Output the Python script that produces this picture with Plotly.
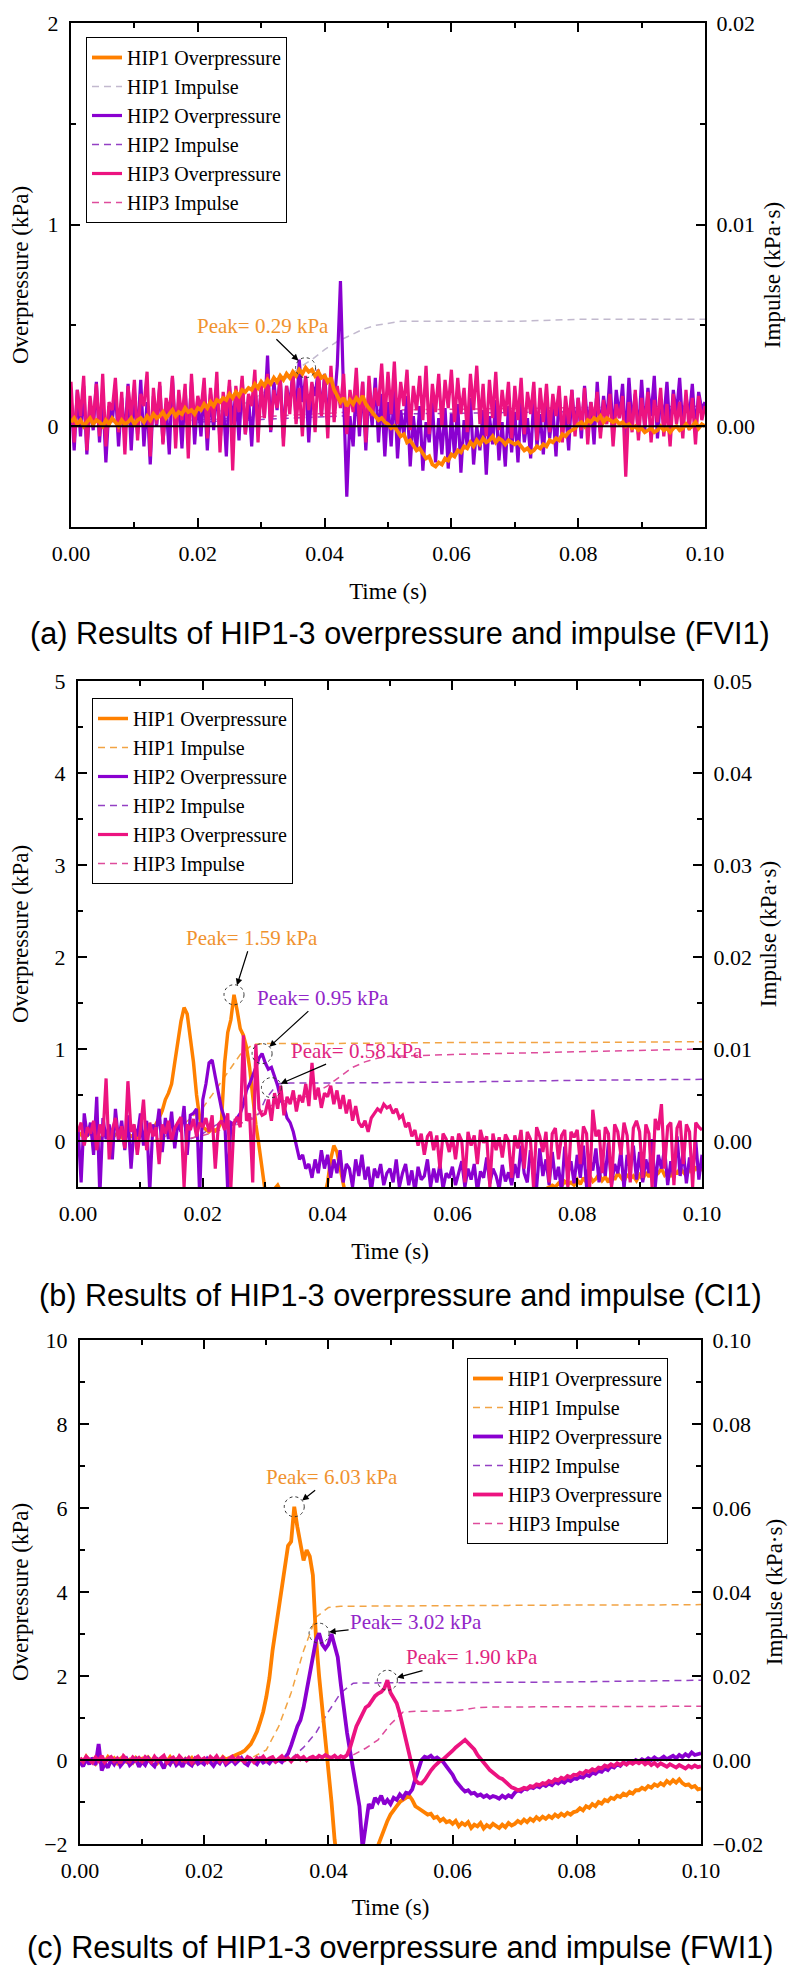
import plotly.graph_objects as go

# ---------------- sampling grid ----------------
SAMPLE_DT = 0.0005
t_grid = [round(i * SAMPLE_DT, 4) for i in range(201)]

# ---------------- panel (a) FVI1 ----------------
hip1_a = [0.02,0.04,0.01,0.03,0.00,0.02,0.04,0.01,0.03,0.02,0.00,0.03,0.01,0.04,0.02,0.00,0.03,0.01,0.02,0.04,
          0.01,0.03,0.04,0.02,0.05,0.03,0.06,0.04,0.05,0.07,0.04,0.06,0.08,0.05,0.07,0.06,0.09,0.07,0.08,0.06,
          0.09,0.08,0.11,0.09,0.12,0.10,0.13,0.12,0.14,0.13,0.16,0.14,0.17,0.15,0.18,0.17,0.19,0.18,0.21,0.19,
          0.22,0.20,0.23,0.21,0.24,0.22,0.25,0.23,0.26,0.24,0.27,0.25,0.28,0.26,0.29,0.27,0.28,0.25,0.27,0.24,
          0.25,0.22,0.24,0.18,0.15,0.12,0.14,0.10,0.13,0.11,0.14,0.12,0.15,0.11,0.09,0.07,0.05,0.03,0.04,0.02,
          0.01,-0.01,0.00,-0.03,-0.05,-0.04,-0.08,-0.07,-0.10,-0.12,-0.11,-0.14,-0.16,-0.15,-0.19,-0.20,-0.18,-0.19,-0.16,-0.17,
          -0.14,-0.15,-0.12,-0.13,-0.10,-0.11,-0.08,-0.10,-0.07,-0.09,-0.06,-0.08,-0.07,-0.05,-0.08,-0.06,-0.07,-0.09,-0.07,-0.08,
          -0.09,-0.08,-0.10,-0.12,-0.11,-0.13,-0.12,-0.10,-0.11,-0.09,-0.10,-0.07,-0.08,-0.06,-0.07,-0.04,-0.05,-0.03,-0.02,-0.01,
          0.01,0.02,0.00,0.03,0.02,0.04,0.03,0.05,0.02,0.04,0.03,0.02,0.03,0.01,0.02,0.00,0.01,-0.01,0.00,-0.02,
          -0.01,-0.03,-0.02,-0.01,-0.03,-0.02,0.00,-0.02,-0.01,-0.03,-0.01,0.00,-0.02,-0.01,0.01,-0.01,0.00,0.02,-0.01,0.01,0.00]
hip2_a = [0.15,-0.12,0.18,-0.05,0.20,-0.14,0.12,-0.02,0.22,-0.08,0.16,-0.18,0.10,0.02,0.19,-0.10,0.14,-0.06,0.21,-0.12,
          0.17,-0.04,0.23,-0.10,0.12,-0.19,0.15,0.00,0.20,-0.08,0.11,-0.14,0.24,-0.03,0.13,-0.11,0.18,-0.06,0.22,-0.09,
          0.14,-0.05,0.19,-0.12,0.16,-0.02,0.21,-0.08,0.13,-0.15,0.20,0.01,0.17,-0.07,0.23,-0.04,0.15,-0.10,0.19,0.02,
          0.18,0.05,0.35,-0.03,0.22,0.08,0.25,-0.06,0.20,0.10,0.27,0.04,0.33,0.12,0.24,-0.08,0.21,0.15,0.28,0.06,
          0.26,0.02,0.24,0.10,0.30,0.72,0.15,-0.35,0.05,-0.10,0.20,-0.05,0.22,-0.12,0.18,0.00,0.24,-0.08,0.16,-0.15,
          0.12,-0.10,0.20,-0.16,0.08,-0.05,0.15,-0.20,0.05,-0.12,0.10,-0.22,0.02,-0.08,0.12,-0.18,0.04,-0.14,0.09,-0.21,
          0.06,-0.15,0.11,-0.23,0.03,-0.10,0.14,-0.19,0.00,-0.12,0.08,-0.24,0.05,-0.09,0.13,-0.17,0.02,-0.20,0.10,-0.13,
          0.07,-0.18,0.12,-0.08,0.04,-0.16,0.15,-0.10,0.06,-0.14,0.11,-0.06,0.09,-0.15,0.16,-0.04,0.08,-0.12,0.18,-0.02,
          0.14,-0.06,0.20,0.00,0.12,-0.09,0.22,-0.03,0.15,0.02,0.25,-0.05,0.18,0.04,0.21,-0.08,0.24,0.01,0.16,-0.04,
          0.23,-0.02,0.19,0.05,0.25,-0.06,0.14,0.03,0.22,-0.04,0.18,0.06,0.24,-0.01,0.15,0.04,0.21,-0.03,0.17,0.08,0.12]
hip3_a = [0.22,-0.08,0.18,0.05,0.25,-0.12,0.15,0.02,0.21,-0.05,0.26,-0.10,0.12,0.08,0.24,-0.03,0.17,-0.14,0.20,0.04,
          0.23,-0.07,0.16,0.10,0.27,-0.15,0.19,0.01,0.22,-0.09,0.14,0.06,0.25,-0.11,0.18,0.03,0.21,-0.16,0.26,0.00,
          0.15,0.08,0.24,-0.06,0.19,0.02,0.27,-0.13,0.17,0.05,0.23,-0.22,0.20,0.07,0.25,-0.04,0.16,0.10,0.28,-0.08,
          0.21,0.04,0.26,-0.02,0.18,0.09,0.24,-0.10,0.20,0.06,0.27,0.01,0.19,-0.05,0.25,0.08,0.22,-0.03,0.28,0.05,
          0.24,-0.06,0.30,0.02,0.20,0.09,0.26,-0.04,0.18,0.07,0.29,0.00,0.22,-0.08,0.25,0.05,0.19,0.10,0.31,0.03,
          0.27,0.06,0.32,0.01,0.22,0.10,0.28,-0.02,0.20,0.08,0.25,0.03,0.30,-0.04,0.21,0.07,0.26,0.00,0.23,0.09,
          0.28,0.02,0.24,0.06,0.19,-0.03,0.26,0.08,0.30,0.01,0.21,-0.05,0.23,0.04,0.27,-0.02,0.18,0.05,0.22,-0.06,
          0.20,0.03,0.24,-0.04,0.17,0.06,0.22,-0.07,0.19,0.02,0.21,-0.03,0.16,0.05,0.20,-0.08,0.15,0.01,0.18,-0.05,
          0.14,-0.02,0.19,-0.09,0.12,0.03,0.17,-0.06,0.13,0.01,0.16,-0.10,0.11,0.04,0.15,-0.25,0.12,-0.03,0.18,-0.07,
          0.14,0.00,0.17,-0.08,0.13,0.02,0.19,-0.05,0.11,-0.10,0.16,0.01,0.12,-0.06,0.18,-0.02,0.14,-0.09,0.15,0.03,0.10]
imp1_a_t = [0.018,0.020,0.022,0.024,0.026,0.028,0.030,0.032,0.034,0.036,0.038,0.040,0.042,0.044,0.046,0.048,0.050,0.052,0.056,0.060,0.070,0.080,0.090,0.100]
imp1_a = [0.0002,0.0004,0.0006,0.0008,0.0010,0.0012,0.0016,0.0020,0.0024,0.0029,0.0033,0.0038,0.0042,0.0045,0.0048,0.0050,0.0051,0.0052,0.0052,0.0052,0.0052,0.0053,0.0053,0.0053]
imp2_a_t = [0.020,0.050,0.100]
imp2_a = [0.0002,0.0006,0.0008]
imp3_a_t = [0.020,0.050,0.100]
imp3_a = [0.0003,0.0008,0.0010]
peak_t_a = [0.037]
peak_v_a = [0.29]

# ---------------- panel (b) CI1 ----------------
hip1_b = [0.05,0.08,0.03,0.06,0.09,0.04,0.07,0.02,0.06,0.08,0.05,0.03,0.07,0.09,0.04,0.06,0.08,0.05,0.07,0.04,
          0.06,0.09,0.08,0.11,0.12,0.18,0.25,0.33,0.45,0.52,0.62,0.85,1.10,1.30,1.45,1.38,1.12,0.86,0.50,0.25,
          0.15,0.12,0.10,0.13,0.11,0.14,0.22,0.85,1.18,1.32,1.59,1.42,1.22,1.15,1.02,0.80,0.45,0.18,-0.05,-0.30,
          -0.55,-0.70,-0.60,-0.52,-0.48,-0.55,-0.62,-0.75,-0.90,-1.00,-1.05,-1.10,-1.00,-0.95,-0.90,-0.85,-0.80,-0.75,-0.70,-0.60,
          -0.45,-0.20,-0.05,-0.12,-0.30,-0.48,-0.65,-0.80,-0.90,-1.00,-1.05,-1.10,-1.10,-1.05,-1.00,-1.00,-0.95,-0.95,-0.90,-0.90,
          -0.90,-0.88,-0.88,-0.86,-0.86,-0.85,-0.85,-0.84,-0.84,-0.83,-0.83,-0.82,-0.82,-0.81,-0.81,-0.80,-0.80,-0.79,-0.79,-0.78,
          -0.78,-0.77,-0.77,-0.76,-0.76,-0.75,-0.75,-0.74,-0.74,-0.73,-0.73,-0.72,-0.72,-0.71,-0.71,-0.70,-0.70,-0.69,-0.69,-0.68,
          -0.62,-0.60,-0.61,-0.58,-0.59,-0.56,-0.57,-0.55,-0.56,-0.53,-0.52,-0.50,-0.48,-0.50,-0.46,-0.49,-0.44,-0.47,-0.45,-0.48,
          -0.42,-0.47,-0.40,-0.45,-0.38,-0.44,-0.41,-0.36,-0.43,-0.39,-0.45,-0.37,-0.42,-0.35,-0.40,-0.44,-0.36,-0.41,-0.38,-0.43,
          -0.37,-0.42,-0.34,-0.39,-0.32,-0.38,-0.35,-0.30,-0.37,-0.33,-0.39,-0.31,-0.36,-0.29,-0.34,-0.38,-0.30,-0.35,-0.28,-0.33,-0.30]
hip2_b = [0.15,-0.45,0.30,0.05,0.20,-0.15,0.48,-0.60,0.25,0.02,0.18,-0.20,0.35,0.00,0.22,-0.10,0.28,-0.30,0.15,0.05,
          0.30,-0.05,0.22,-0.55,0.18,0.08,0.35,-0.12,0.25,0.02,0.32,-0.08,0.20,0.10,0.38,-0.15,0.28,0.30,0.35,-0.60,
          0.45,0.62,0.85,0.88,0.70,0.52,0.35,0.25,-0.55,0.20,0.18,0.25,0.30,0.40,0.55,0.62,0.70,0.80,0.90,0.95,
          0.85,0.78,0.80,0.70,0.60,0.45,0.38,0.25,0.20,0.10,-0.05,-0.20,-0.15,-0.30,-0.25,-0.40,-0.20,-0.35,-0.10,-0.30,
          -0.15,-0.40,-0.20,-0.35,-0.10,-0.45,-0.25,-0.30,-0.50,-0.20,-0.38,-0.15,-0.42,-0.28,-0.55,-0.30,-0.40,-0.25,-0.48,-0.35,
          -0.30,-0.45,-0.20,-0.50,-0.35,-0.25,-0.48,-0.32,-0.55,-0.28,-0.42,-0.38,-0.20,-0.50,-0.30,-0.45,-0.25,-0.52,-0.35,-0.40,
          -0.28,-0.48,-0.35,-0.22,-0.50,-0.30,-0.42,-0.25,-0.55,-0.33,-0.40,-0.18,-0.46,-0.30,-0.38,-0.52,-0.26,-0.44,-0.34,-0.48,
          -0.25,-0.40,-0.05,-0.35,-0.45,-0.10,-0.30,-0.50,-0.08,-0.38,-0.20,-0.48,-0.12,-0.42,-0.28,-0.55,-0.06,-0.36,-0.22,-0.46,
          -0.15,-0.40,-0.05,-0.50,-0.20,-0.32,-0.08,-0.45,-0.18,-0.38,-0.02,-0.48,-0.25,-0.35,-0.10,-0.52,-0.15,-0.30,-0.05,-0.42,
          -0.12,-0.45,-0.20,-0.35,0.02,-0.50,-0.15,-0.30,-0.08,-0.48,-0.22,-0.40,0.05,-0.38,-0.10,-0.46,-0.18,-0.33,0.00,-0.42,-0.15]
hip3_b = [0.10,0.20,-0.05,0.15,0.08,0.22,-0.10,0.18,0.05,0.68,-0.20,0.12,0.25,0.02,0.16,-0.08,0.65,0.10,0.18,-0.15,
          0.12,0.45,-0.10,0.20,0.05,0.15,-0.25,0.18,0.08,0.22,0.00,0.14,0.20,0.26,-0.50,0.18,0.12,0.24,0.05,0.20,
          0.15,0.25,0.10,0.28,-0.30,0.18,0.22,0.12,0.30,-0.50,0.20,0.26,0.15,1.15,0.22,0.30,-0.45,1.05,0.35,0.28,
          0.30,0.45,0.22,0.52,0.35,0.60,0.28,0.48,0.40,0.55,0.32,0.50,0.42,0.62,0.38,0.85,0.45,0.58,0.36,0.52,
          0.48,0.60,0.40,0.55,0.35,0.50,0.30,0.45,0.22,0.38,0.20,0.15,0.22,0.10,0.25,0.30,0.35,0.32,0.40,0.36,
          0.38,0.30,0.35,0.25,0.28,0.15,0.20,0.05,0.12,-0.05,0.08,-0.15,0.05,0.10,-0.10,0.06,-0.30,0.08,0.02,-0.12,
          0.05,-0.20,0.08,0.00,-0.45,0.10,-0.05,0.06,-0.25,0.12,-0.02,0.05,-0.50,0.08,-0.10,0.04,-0.18,0.07,0.00,-0.40,
          0.06,-0.08,0.12,-0.30,0.10,0.02,-0.50,0.15,0.05,-0.12,0.10,-0.45,0.08,0.14,-0.20,0.06,0.12,-0.50,0.10,0.04,
          0.12,-0.25,0.16,0.08,-0.50,0.34,0.05,0.12,-0.35,0.15,0.08,-0.50,0.18,0.10,-0.15,0.20,0.06,-0.45,0.14,0.22,
          0.10,-0.40,0.18,0.08,-0.50,0.24,0.12,0.40,-0.30,0.16,0.20,-0.48,0.14,0.22,-0.25,0.18,0.10,-0.50,0.20,0.15,0.12]
imp1_b_t = [0.012,0.014,0.016,0.018,0.020,0.022,0.024,0.026,0.028,0.030,0.040,0.060,0.080,0.100]
imp1_b = [0.0000,0.0005,0.0013,0.0024,0.0036,0.0055,0.0075,0.0094,0.0105,0.0106,0.0106,0.0107,0.0107,0.0108]
imp2_b_t = [0.018,0.020,0.022,0.024,0.026,0.028,0.029,0.030,0.032,0.034,0.040,0.060,0.080,0.100]
imp2_b = [0.0002,0.0008,0.0017,0.0023,0.0024,0.0025,0.0030,0.0045,0.0062,0.0063,0.0063,0.0064,0.0066,0.0067]
imp3_b_t = [0.018,0.020,0.022,0.024,0.026,0.028,0.030,0.032,0.034,0.036,0.038,0.040,0.042,0.044,0.046,0.048,0.050,0.060,0.080,0.100]
imp3_b = [0.0003,0.0006,0.0010,0.0015,0.0019,0.0024,0.0035,0.0042,0.0045,0.0047,0.0052,0.0060,0.0070,0.0080,0.0086,0.0090,0.0092,0.0094,0.0097,0.0100]
peak_t_b = [0.025, 0.0295, 0.031]
peak_v_b = [1.59, 0.95, 0.58]

# ---------------- panel (c) FWI1 ----------------
hip1_c = [0.05,-0.06,0.08,-0.03,0.02,-0.08,0.06,0.00,-0.05,0.07,-0.02,0.04,-0.07,0.03,0.08,-0.04,0.01,-0.06,0.05,-0.02,
          0.03,-0.05,0.06,-0.01,0.04,-0.07,0.02,0.05,-0.03,0.07,-0.04,0.01,0.06,-0.06,0.03,-0.02,0.05,-0.05,0.04,0.00,
          0.02,-0.04,0.06,0.00,0.05,-0.03,0.07,0.01,0.04,0.08,0.12,0.15,0.18,0.22,0.30,0.38,0.52,0.68,0.90,1.15,
          1.50,1.95,2.60,3.10,3.60,4.10,4.70,5.10,5.20,6.03,5.55,5.20,4.75,5.00,4.85,4.40,2.90,2.00,1.30,0.50,
          -0.30,-1.00,-1.90,-2.60,-3.20,-3.60,-3.80,-3.90,-3.80,-3.60,-3.20,-3.00,-2.80,-2.60,-2.40,-2.20,-2.00,-1.80,-1.60,-1.45,
          -1.30,-1.18,-1.10,-1.00,-0.95,-0.88,-0.85,-0.95,-1.10,-1.15,-1.20,-1.25,-1.30,-1.28,-1.38,-1.35,-1.45,-1.40,-1.48,-1.45,
          -1.52,-1.45,-1.58,-1.50,-1.55,-1.48,-1.62,-1.54,-1.58,-1.50,-1.63,-1.55,-1.60,-1.52,-1.58,-1.62,-1.54,-1.60,-1.50,-1.56,
          -1.52,-1.45,-1.50,-1.42,-1.48,-1.40,-1.45,-1.36,-1.42,-1.35,-1.40,-1.33,-1.38,-1.30,-1.35,-1.28,-1.33,-1.26,-1.30,-1.24,
          -1.22,-1.15,-1.20,-1.10,-1.14,-1.05,-1.10,-1.00,-1.04,-0.95,-0.98,-0.90,-0.93,-0.85,-0.88,-0.80,-0.84,-0.76,-0.80,-0.72,
          -0.72,-0.66,-0.70,-0.62,-0.66,-0.58,-0.62,-0.55,-0.60,-0.50,-0.56,-0.48,-0.54,-0.46,-0.55,-0.60,-0.58,-0.65,-0.62,-0.70,-0.68]
hip2_c = [-0.05,-0.15,0.02,-0.10,0.05,-0.12,0.38,-0.25,-0.08,-0.18,0.00,-0.10,0.04,-0.14,-0.05,0.03,-0.12,-0.06,0.02,-0.16,
          -0.04,-0.12,0.03,-0.08,-0.15,0.01,-0.06,-0.20,-0.02,-0.10,0.04,-0.12,-0.05,-0.16,0.00,-0.08,-0.13,0.02,-0.09,-0.04,
          -0.10,0.03,-0.06,-0.14,-0.02,-0.08,0.04,-0.11,-0.05,0.00,-0.09,-0.03,0.05,-0.07,-0.12,0.02,-0.04,-0.10,0.03,-0.06,
          -0.02,-0.08,0.02,-0.04,0.00,-0.05,0.05,0.15,0.35,0.60,0.80,0.95,1.25,1.65,2.05,2.40,2.85,3.02,2.75,2.65,
          2.75,3.00,2.70,2.45,1.80,1.20,0.65,0.20,-0.20,-0.60,-1.10,-2.10,-1.50,-1.05,-1.15,-0.90,-1.00,-0.85,-1.05,-0.95,
          -1.05,-0.90,-0.95,-0.82,-0.90,-0.78,-0.80,-0.70,-0.45,-0.25,0.00,0.08,0.05,0.10,0.02,0.06,0.00,-0.05,-0.15,-0.25,
          -0.35,-0.50,-0.60,-0.68,-0.75,-0.72,-0.80,-0.78,-0.85,-0.82,-0.88,-0.84,-0.90,-0.86,-0.88,-0.92,-0.85,-0.90,-0.84,-0.88,
          -0.78,-0.72,-0.75,-0.68,-0.70,-0.64,-0.67,-0.62,-0.65,-0.58,-0.62,-0.56,-0.60,-0.52,-0.56,-0.50,-0.54,-0.47,-0.50,-0.44,
          -0.45,-0.40,-0.42,-0.35,-0.38,-0.30,-0.33,-0.26,-0.28,-0.20,-0.24,-0.15,-0.18,-0.10,-0.14,-0.06,-0.10,-0.03,-0.07,0.00,
          -0.04,0.02,-0.02,0.04,0.00,0.06,0.01,0.03,0.08,0.02,0.06,0.10,0.04,0.12,0.07,0.14,0.09,0.18,0.12,0.15,0.16]
hip3_c = [0.05,-0.04,0.08,0.00,-0.06,0.06,-0.02,0.10,-0.05,0.03,0.07,-0.03,0.04,-0.07,0.09,0.01,-0.04,0.06,-0.01,0.05,
          -0.03,0.07,0.00,-0.05,0.08,-0.02,0.04,0.10,-0.06,0.02,0.06,-0.04,0.09,0.01,-0.03,0.05,-0.07,0.03,0.08,-0.01,
          0.04,-0.05,0.07,0.00,0.09,-0.03,0.05,-0.06,0.02,0.08,-0.02,0.06,0.00,-0.04,0.07,0.03,-0.05,0.05,0.01,0.08,
          -0.02,0.04,0.07,-0.04,0.03,0.09,0.00,0.05,-0.03,0.06,0.10,0.02,0.07,-0.01,0.05,0.08,0.03,0.10,0.06,0.12,
          0.08,0.05,0.10,0.03,0.09,0.06,0.12,0.30,0.55,0.80,0.95,1.10,1.25,1.30,1.40,1.52,1.58,1.62,1.70,1.90,
          1.60,1.45,1.35,1.10,0.80,0.50,0.16,-0.15,-0.48,-0.55,-0.56,-0.48,-0.35,-0.25,-0.16,-0.08,-0.02,0.02,0.08,0.15,
          0.22,0.30,0.35,0.42,0.48,0.40,0.32,0.25,0.12,0.02,-0.05,-0.15,-0.24,-0.30,-0.38,-0.42,-0.45,-0.52,-0.60,-0.65,
          -0.68,-0.72,-0.70,-0.66,-0.68,-0.62,-0.64,-0.58,-0.60,-0.55,-0.57,-0.50,-0.53,-0.46,-0.49,-0.42,-0.45,-0.38,-0.41,-0.35,
          -0.36,-0.30,-0.33,-0.26,-0.28,-0.22,-0.25,-0.18,-0.20,-0.13,-0.16,-0.10,-0.14,-0.08,-0.12,-0.06,-0.11,-0.05,-0.09,-0.04,
          -0.08,-0.03,-0.10,-0.05,-0.12,-0.07,-0.14,-0.08,-0.12,-0.16,-0.10,-0.14,-0.18,-0.12,-0.16,-0.20,-0.14,-0.18,-0.13,-0.17,-0.15]
imp1_c_t = [0.026,0.028,0.030,0.032,0.034,0.036,0.038,0.040,0.042,0.050,0.060,0.070,0.080,0.090,0.100]
imp1_c = [0.0000,0.0008,0.0024,0.0080,0.0160,0.0260,0.0340,0.0363,0.0366,0.0367,0.0367,0.0368,0.0369,0.0369,0.0370]
imp2_c_t = [0.034,0.036,0.038,0.040,0.042,0.044,0.050,0.060,0.070,0.080,0.090,0.100]
imp2_c = [0.0003,0.0030,0.0065,0.0115,0.0160,0.0183,0.0184,0.0184,0.0185,0.0186,0.0188,0.0190]
imp3_c_t = [0.044,0.046,0.048,0.050,0.052,0.054,0.060,0.062,0.064,0.066,0.080,0.100]
imp3_c = [0.0012,0.0028,0.0048,0.0085,0.0114,0.0116,0.0117,0.0120,0.0125,0.0126,0.0127,0.0128]
peak_t_c = [0.0345, 0.0385, 0.0495]
peak_v_c = [6.03, 3.02, 1.90]

captions = ["(a) Results of HIP1-3 overpressure and impulse (FVI1)",
            "(b) Results of HIP1-3 overpressure and impulse (CI1)",
            "(c) Results of HIP1-3 overpressure and impulse (FWI1)"]
series_names = ["HIP1 Overpressure", "HIP1 Impulse", "HIP2 Overpressure",
                "HIP2 Impulse", "HIP3 Overpressure", "HIP3 Impulse"]

# ---------------- styling ----------------
SERIF = "Liberation Serif, Times New Roman, serif"
SANS = "Liberation Sans, Arial, sans-serif"
C_OP = ["#FF8000", "#8A00D0", "#EC1380"]
C_IMP = ["#F2A444", "#9440C4", "#DE4C9C"]
C_PEAK = ["#F0922E", "#9226C8", "#E0257F"]
DASH = "7px,5px"
# the page body adds an 8 px margin, so the figure is 8 px smaller and page pixels are shifted by 8
OFF = 8
W, H = 800 - OFF, 1970 - OFF

def fx(p):
    return (p - OFF) / W

def fy(p):
    return 1 - (p - OFF) / H

panels = [
    dict(ops=[hip1_a, hip2_a, hip3_a],
         imps=[(imp1_a_t, imp1_a), (imp2_a_t, imp2_a), (imp3_a_t, imp3_a)],
         draw=[1, 2, 0], widths=[3.8, 3.2, 3.2], x=(71, 705), y=(23, 527), yr=[-0.5, 2], yd=1, ym=0.5,
         ir=[-0.005, 0.02], idt=0.01, im=0.005, legend=(86, 37), cap=633,
         lstand=23, rstand=10,
         imp_cols=["#C2B9CE", C_IMP[1], C_IMP[2]],
         peaks=[(peak_t_a[0], peak_v_a[0], 0, -43, -42)]),
    dict(ops=[hip1_b, hip2_b, hip3_b],
         imps=[(imp1_b_t, imp1_b), (imp2_b_t, imp2_b), (imp3_b_t, imp3_b)],
         draw=[0, 1, 2], widths=[3.5, 3.2, 3.2], x=(78, 702), y=(681, 1187), yr=[-0.5, 5], yd=1, ym=0.5,
         ir=[-0.005, 0.05], idt=0.01, im=0.005, legend=(92, 698), cap=1295,
         lstand=21, rstand=9,
         imp_cols=C_IMP,
         peaks=[(peak_t_b[0], peak_v_b[0], 0, 18, -57), (peak_t_b[1], peak_v_b[1], 1, 61, -56),
                (peak_t_b[2], peak_v_b[2], 2, 86, -37)]),
    dict(ops=[hip1_c, hip2_c, hip3_c],
         imps=[(imp1_c_t, imp1_c), (imp2_c_t, imp2_c), (imp3_c_t, imp3_c)],
         draw=[0, 1, 2], widths=[3.8, 3.8, 3.8], x=(80, 701), y=(1340, 1844), yr=[-2, 10], yd=2, ym=1,
         ir=[-0.02, 0.10], idt=0.02, im=0.01, legend=(467, 1358), cap=1947,
         lstand=17, rstand=4,
         imp_cols=C_IMP,
         peaks=[(peak_t_c[0], peak_v_c[0], 0, 38, -30), (peak_t_c[1], peak_v_c[1], 1, 97, -11),
                (peak_t_c[2], peak_v_c[2], 2, 85, -23)]),
]

fig = go.Figure()
layout = dict(template="none", width=W, height=H, autosize=False, margin=dict(l=0, r=0, t=0, b=0, pad=0),
              paper_bgcolor="white", plot_bgcolor="white", showlegend=True,
              font=dict(family=SERIF, size=22, color="black"))
shapes, annotations = [], []

tickfont = dict(family=SERIF, size=22, color="black")
titlefont = dict(family=SERIF, size=23, color="black")

for k, p in enumerate(panels):
    xs = "" if k == 0 else str(k + 1)
    yi = "" if k == 0 else str(2 * k + 1)       # impulse axis (right)
    yo = str(2 * k + 2)                          # overpressure axis (left, overlay)
    xname, yiname, yoname = "x" + xs, "y" + yi, "y" + yo
    leg = "legend" if k == 0 else "legend" + str(k + 1)

    # impulse traces (drawn underneath)
    for s in range(3):
        tt, vv = p["imps"][s]
        fig.add_trace(go.Scatter(x=tt, y=vv, mode="lines", name=series_names[2 * s + 1],
                                 line=dict(color=p["imp_cols"][s], width=1.5, dash=DASH),
                                 xaxis=xname, yaxis=yiname, legend=leg, legendrank=2 * s + 2,
                                 hoverinfo="skip"))
    # overpressure traces (drawn on top)
    for s in p["draw"]:
        vv = p["ops"][s]
        fig.add_trace(go.Scatter(x=t_grid[:len(vv)], y=vv, mode="lines", name=series_names[2 * s],
                                 line=dict(color=C_OP[s], width=p["widths"][s]),
                                 xaxis=xname, yaxis=yoname, legend=leg, legendrank=2 * s + 1,
                                 hoverinfo="skip"))

    xd = [fx(p["x"][0]), fx(p["x"][1])]
    yd = [fy(p["y"][1]), fy(p["y"][0])]
    axline = dict(showline=True, linewidth=2, linecolor="black", showgrid=False, zeroline=False,
                  automargin=False, ticks="inside", ticklen=9, tickwidth=2, tickcolor="black",
                  tickfont=tickfont, ticklabeloverflow="allow")
    layout["xaxis" + xs] = dict(domain=xd, anchor=yiname, range=[0, 0.1], dtick=0.02, tick0=0,
                                tickformat=".2f", mirror="ticks", ticklabelstandoff=6,
                                minor=dict(dtick=0.01, ticks="inside", ticklen=5, tickwidth=2, tickcolor="black"),
                                title=dict(text="Time (s)", font=titlefont, standoff=17), **axline)
    layout["yaxis" + yi] = dict(domain=yd, anchor=xname, side="right", range=p["ir"], dtick=p["idt"],
                                tick0=0, tickformat=".2f", ticklabelstandoff=5,
                                minor=dict(dtick=p["im"], ticks="inside", ticklen=5, tickwidth=2, tickcolor="black"),
                                title=dict(text="Impulse (kPa·s)", font=titlefont, standoff=p["rstand"]), **axline)
    layout["yaxis" + yo] = dict(overlaying=yiname, anchor=xname, side="left", range=p["yr"], dtick=p["yd"],
                                tick0=0, ticklabelstandoff=6,
                                minor=dict(dtick=p["ym"], ticks="inside", ticklen=5, tickwidth=2, tickcolor="black"),
                                title=dict(text="Overpressure (kPa)", font=titlefont, standoff=p["lstand"]), **axline)
    layout[leg] = dict(x=fx(p["legend"][0]), y=fy(p["legend"][1]), xanchor="left", yanchor="top",
                       xref="paper", yref="paper", bgcolor="white", bordercolor="black", borderwidth=1,
                       font=dict(family=SERIF, size=20, color="black"), tracegroupgap=0,
                       traceorder="normal")

    # zero line on top
    shapes.append(dict(type="line", xref=xname, yref=yoname, x0=0, x1=0.1, y0=0, y1=0,
                       line=dict(color="black", width=2), layer="above"))
    # peaks
    for (pt, pv, ci, ax, ay) in p["peaks"]:
        shapes.append(dict(type="circle", xref=xname, yref=yoname, xsizemode="pixel", ysizemode="pixel",
                           xanchor=pt, yanchor=pv, x0=-10, x1=10, y0=-10, y1=10,
                           line=dict(color="#333333", width=1, dash="dot"), layer="above"))
        annotations.append(dict(x=pt, y=pv, xref=xname, yref=yoname, text="Peak= %.2f kPa" % pv,
                                showarrow=True, ax=ax, ay=ay, arrowhead=2, arrowsize=1.1, arrowwidth=1.2,
                                arrowcolor="black", standoff=10,
                                font=dict(family=SERIF, size=21, color=C_PEAK[ci])))
    annotations.append(dict(x=fx(400), y=fy(p["cap"]), xref="paper", yref="paper", text=captions[k],
                            showarrow=False, xanchor="center", yanchor="middle",
                            font=dict(family=SANS, size=30.6, color="black")))

layout["shapes"] = shapes
layout["annotations"] = annotations
fig.update_layout(**layout)
fig.write_html("out.html")
